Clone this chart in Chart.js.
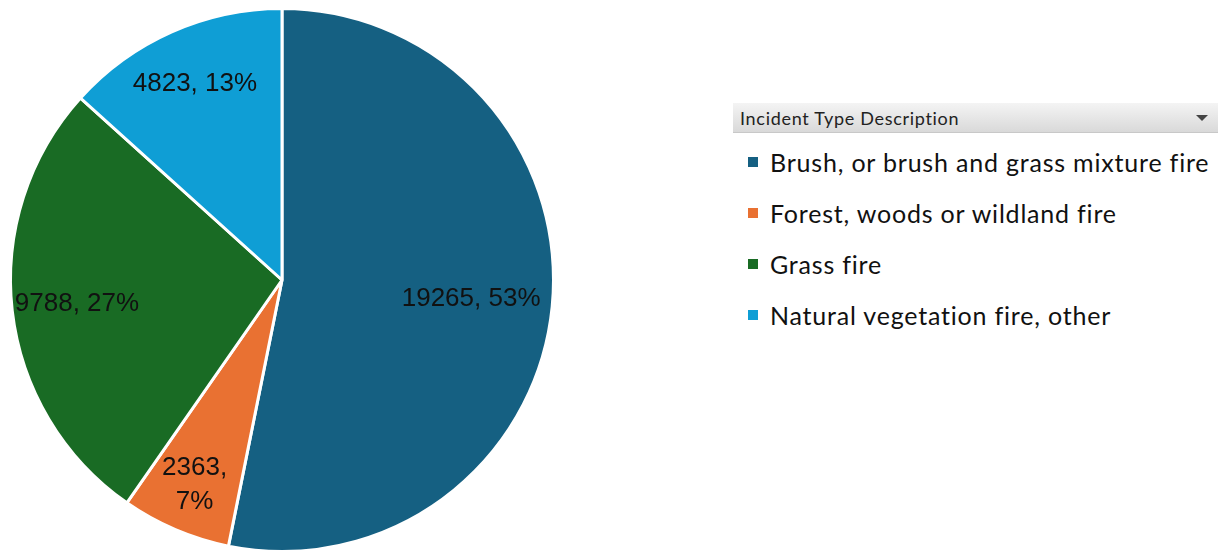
<!DOCTYPE html>
<html>
<head>
<meta charset="utf-8">
<script src="https://cdn.jsdelivr.net/npm/chart.js@4.4.1/dist/chart.umd.min.js"></script>
<style>
  html, body { margin: 0; padding: 0; background: #fff; }
  body { width: 1220px; height: 553px; position: relative; overflow: hidden; }
  #pieWrap { position: absolute; left: 0; top: 0; width: 564px; height: 553px; }
  #legendBox { position: absolute; left: 733px; top: 103px; width: 485px; }
  .legend-head {
    height: 30px; box-sizing: border-box; padding-left: 7px;
    background: linear-gradient(#f4f4f4, #d9d9d9);
    border-bottom: 1px solid #c8c8c8;
    font: 18px Lato, sans-serif; letter-spacing: 0.7px; color: #222; line-height: 30px; position: relative;
  }
  .legend-head .arrow {
    position: absolute; right: 10px; top: 12px; width: 0; height: 0;
    border-left: 6px solid transparent; border-right: 6px solid transparent;
    border-top: 6px solid #444;
  }
  .legend-item { height: 51px; display: flex; align-items: center; padding-left: 15px; font: 25px Lato, sans-serif; letter-spacing: 0.8px; color: #111; }
  .sw { width: 10px; height: 10px; margin-right: 12px; flex: none; }
  #items { margin-top: 3px; }
</style>
</head>
<body>
<div id="pieWrap"><canvas id="pie" width="564" height="553"></canvas></div>
<div id="legendBox">
  <div class="legend-head">Incident Type Description<span class="arrow"></span></div>
  <div id="items"></div>
</div>
<script>
const categories = [
  'Brush, or brush and grass mixture fire',
  'Forest, woods or wildland fire',
  'Grass fire',
  'Natural vegetation fire, other'
];
const counts = [19265, 2363, 9788, 4823];
const percentLabels = ['53%', '7%', '27%', '13%'];
const sliceColors = ['#156082', '#E97132', '#196B24', '#0F9ED5'];

// how far out (fraction of radius) each label sits, like Excel's best fit
const labelRadius = [0.70, 0.82, 0.76, 0.79];

const itemsEl = document.getElementById('items');
categories.forEach((name, i) => {
  const row = document.createElement('div');
  row.className = 'legend-item';
  row.innerHTML = '<span class="sw" style="background:' + sliceColors[i] + '"></span>' + name;
  itemsEl.appendChild(row);
});

const sliceLabels = {
  id: 'sliceLabels',
  afterDatasetsDraw(chart) {
    const ctx = chart.ctx;
    const meta = chart.getDatasetMeta(0);
    ctx.save();
    ctx.fillStyle = '#111';
    ctx.font = '26px "Liberation Sans", Arial, sans-serif';
    ctx.textAlign = 'center';
    ctx.textBaseline = 'middle';
    meta.data.forEach((arc, i) => {
      const p = arc.getProps(['x', 'y', 'startAngle', 'endAngle', 'outerRadius'], true);
      const mid = (p.startAngle + p.endAngle) / 2;
      const r = p.outerRadius * labelRadius[i];
      const x = p.x + Math.cos(mid) * r;
      const y = p.y + Math.sin(mid) * r;
      if (i === 1) {
        // narrow slice: wrap onto two lines
        ctx.fillText(counts[i] + ',', x, y - 17);
        ctx.fillText(percentLabels[i], x, y + 17);
      } else {
        ctx.fillText(counts[i] + ', ' + percentLabels[i], x, y);
      }
    });
    ctx.restore();
  }
};

new Chart(document.getElementById('pie'), {
  type: 'pie',
  data: {
    labels: categories,
    datasets: [{
      data: counts,
      backgroundColor: sliceColors,
      borderColor: '#ffffff',
      borderWidth: 3
    }]
  },
  options: {
    responsive: false,
    animation: false,
    layout: { padding: { top: 7, bottom: 0, left: 9, right: 9 } },
    plugins: {
      legend: { display: false },
      tooltip: { enabled: false }
    }
  },
  plugins: [sliceLabels]
});
</script>
</body>
</html>
